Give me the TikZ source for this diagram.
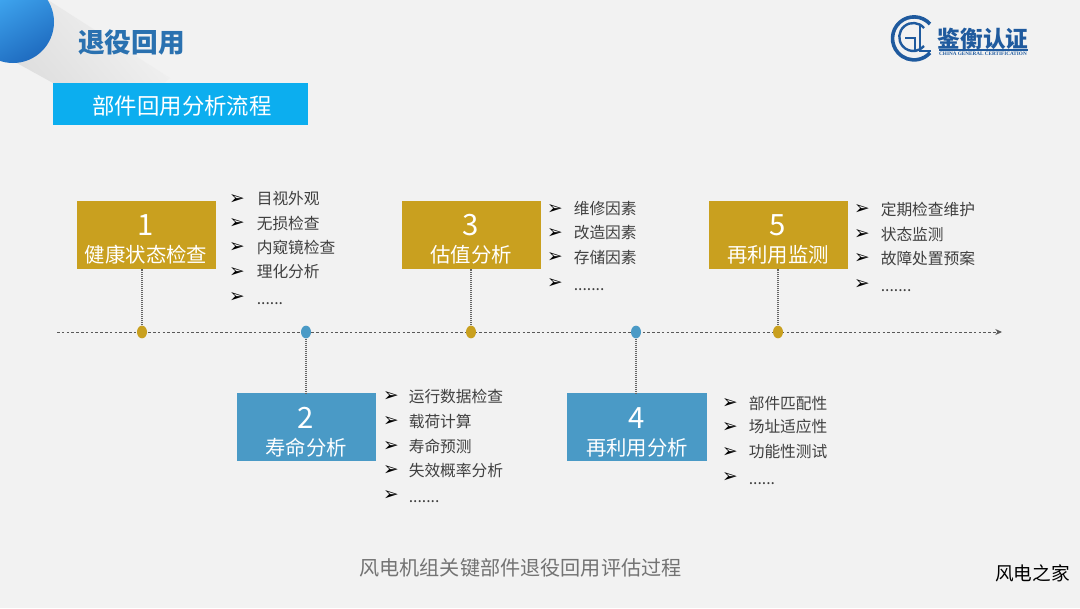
\documentclass[tikz,border=0pt]{standalone}
\usepackage{fontspec}
\setmainfont{Noto Sans CJK SC}
\newfontfamily\symfont{DejaVu Sans}
\newfontfamily\latinfont{Liberation Serif}
\usetikzlibrary{arrows.meta,shapes.geometric}
\definecolor{bg}{HTML}{F2F2F2}
\definecolor{gold}{HTML}{C9A01F}
\definecolor{steel}{HTML}{4A9AC6}
\definecolor{cyanbar}{HTML}{0CAEEF}
\definecolor{titleblue}{HTML}{2A71B0}
\definecolor{logoblue}{HTML}{1F5A9E}
\definecolor{itemtext}{HTML}{404040}
\definecolor{balllight}{HTML}{45B0F8}
\definecolor{balldark}{HTML}{1F6CC0}
\tikzset{
  x=0.75pt,y=-0.75pt,
  stagebox/.style={minimum width=104.5pt,minimum height=51pt,inner sep=0pt,text=white,align=center,outer sep=0pt},
  stagenum/.style={font=\fontsize{22}{24}\selectfont,text=white,inner sep=0pt},
  stagelabel/.style={font=\fontsize{15.3}{17}\selectfont,text=white,inner sep=0pt},
  bulletmark/.style={font=\symfont\fontsize{14}{15}\selectfont,text=black,inner sep=0pt},
  itemlabel/.style={font=\fontsize{11.8}{14}\selectfont,text=itemtext,anchor=west,inner sep=0pt},
  tick/.style={ellipse,minimum width=7.5pt,minimum height=9.5pt,inner sep=0pt},
  stem/.style={draw=black!60,dash pattern=on 0.8pt off 0.7pt,line width=0.9pt},
}
\newcommand{\itemrow}[5]{%
  \node[bulletmark] (m#1) at (#2,#4+1) {➢};
  \node[itemlabel] (t#1) at (#3-0.5,#4) {#5};
}
\newcommand{\dotrow}[5]{%
  \node[bulletmark] (m#1) at (#2,#4+1) {➢};
  \node[itemlabel] (t#1) at (#3-0.5,#4+7) {#5};
}
\begin{document}
\begin{tikzpicture}
\useasboundingbox (0,0) rectangle (1080,608);
\fill[bg] (0,0) rectangle (1080,608);
% header decoration
\shade[left color=black!14,right color=bg,shading angle=130] (48,0) -- (170,78) -- (120,120) -- (15,62) -- (0,50) -- (0,0) -- cycle;
\begin{scope}
\clip (0,0) rectangle (100,100);
\shade[top color=balllight,bottom color=balldark,shading angle=30] (13,22) circle (41);
\end{scope}
\node[font=\bfseries\fontsize{20}{22}\selectfont,text=titleblue,inner sep=0pt] (title) at (131.5,42) {退役回用};
\node[fill=cyanbar,minimum width=191pt,minimum height=31pt,inner sep=0pt] (sub) at (180.5,104) {};
\node[text=white,font=\fontsize{16.8}{18}\selectfont,inner sep=0pt] (subt) at (182,106) {部件回用分析流程};
% logo
\draw[logoblue,line width=2.7pt] (930,24) arc (318:42:21.5);
\draw[logoblue,line width=1.8pt] (924,28) arc (320:40:14);
\draw[logoblue,line width=1.5pt] (905,38) -- (915,38) -- (915,52);
\draw[logoblue,line width=1.5pt] (920,24) -- (920,51) -- (931,51);
\node[font=\bfseries\fontsize{17}{18}\selectfont,text=logoblue,inner sep=0pt] (logotext) at (983,39) {鉴衡认证};
\draw[logoblue,line width=1pt] (939,50) -- (1028,50);
\node[font=\latinfont\bfseries\fontsize{3.9}{4}\selectfont,text=logoblue,inner sep=0pt] (logosub) at (983,53.5) {CHINA GENERAL CERTIFICATION};
% boxes
\node[stagebox,fill=gold] (b1) at (146.5,234.5) {};
\node[stagebox,fill=gold] (b3) at (471.5,234.5) {};
\node[stagebox,fill=gold] (b5) at (778.5,234.5) {};
\node[stagebox,fill=steel] (b2) at (306.5,427) {};
\node[stagebox,fill=steel] (b4) at (637,427) {};
\foreach \nm/\x/\y/\n/\lab in {a/146/225/1/健康状态检查,c/471/225/3/估值分析,e/778/225/5/再利用监测,b/306/418/2/寿命分析,d/637/418/4/再利用分析}{
  \node[stagenum] (n\nm) at (\x,\y) {\n};
  \node[stagelabel] (l\nm) at (\x,\y+30) {\lab};
}
% axis
\coordinate (axL) at (57,332);
\coordinate (axR) at (1002,332);
\draw[black!65,dash pattern=on 2pt off 1.6pt,line width=0.7pt,-{Stealth[length=5pt,width=4.5pt]}] (axL) -- (axR);
% ticks
\node[tick,fill=gold] (k1) at (142,332) {};
\node[tick,fill=steel] (k2) at (306,332) {};
\node[tick,fill=gold] (k3) at (471,332) {};
\node[tick,fill=steel] (k4) at (636,332) {};
\node[tick,fill=gold] (k5) at (778,332) {};
\draw[stem] (k1) -- (k1 |- b1.south);
\draw[stem] (k3) -- (k3 |- b3.south);
\draw[stem] (k5) -- (k5 |- b5.south);
\draw[stem] (k2) -- (k2 |- b2.north);
\draw[stem] (k4) -- (k4 |- b4.north);
% lists
\itemrow{a1}{237}{257}{199}{目视外观}
\itemrow{a2}{237}{257}{223}{无损检查}
\itemrow{a3}{237}{257}{247}{内窥镜检查}
\itemrow{a4}{237}{257}{272}{理化分析}
\dotrow{a5}{237}{257}{297}{......}
\itemrow{b1}{391}{409}{396}{运行数据检查}
\itemrow{b2}{391}{409}{421}{载荷计算}
\itemrow{b3}{391}{409}{446}{寿命预测}
\itemrow{b4}{391}{409}{470}{失效概率分析}
\dotrow{b5}{391}{409}{495}{.......}
\itemrow{c1}{555}{574}{209}{维修因素}
\itemrow{c2}{555}{574}{233}{改造因素}
\itemrow{c3}{555}{574}{257}{存储因素}
\dotrow{c4}{555}{574}{283}{.......}
\itemrow{d1}{730}{749}{403}{部件匹配性}
\itemrow{d2}{730}{749}{427}{场址适应性}
\itemrow{d3}{730}{749}{452}{功能性测试}
\dotrow{d4}{730}{749}{477}{......}
\itemrow{e1}{862}{881}{209}{定期检查维护}
\itemrow{e2}{862}{881}{234}{状态监测}
\itemrow{e3}{862}{881}{258}{故障处置预案}
\dotrow{e4}{862}{881}{284}{.......}
% caption
\node[font=\fontsize{15.1}{18}\selectfont,text=black!55,inner sep=0pt] (cap) at (520.5,568) {风电机组关键部件退役回用评估过程};
\node[font=\fontsize{14}{16}\selectfont,text=black,inner sep=0pt] (wm) at (1032.5,573) {风电之家};
\end{tikzpicture}
\end{document}
